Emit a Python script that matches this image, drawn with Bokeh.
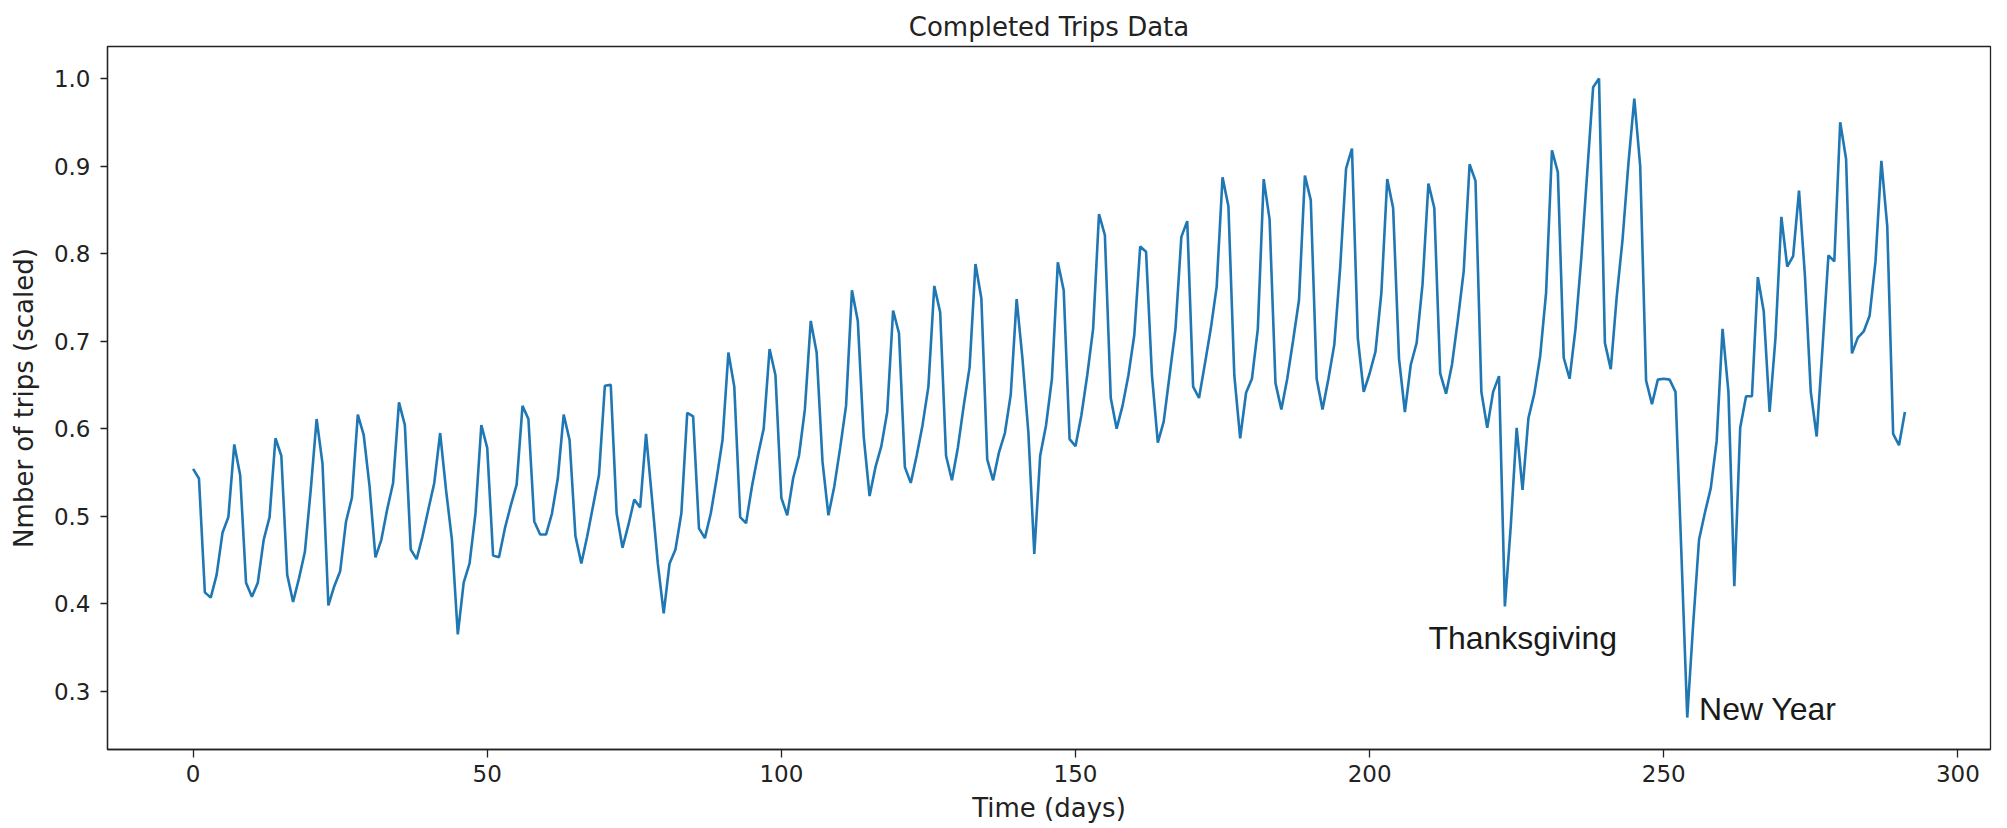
from bokeh.plotting import figure
from bokeh.models import Range1d, FixedTicker, PrintfTickFormatter, ColumnDataSource
from bokeh.core.properties import value
from bokeh.embed import file_html
from bokeh.resources import INLINE

# Scaled number of completed trips, one value per day (days 0..291)
trips_scaled = [
    0.554, 0.543, 0.413, 0.407, 0.433, 0.481, 0.499, 0.582, 0.547, 0.424,
    0.408, 0.424, 0.473, 0.499, 0.589, 0.569, 0.433, 0.402, 0.429, 0.459,
    0.530, 0.611, 0.560, 0.398, 0.420, 0.437, 0.494, 0.521, 0.616, 0.593,
    0.534, 0.453, 0.473, 0.508, 0.538, 0.630, 0.604, 0.462, 0.451, 0.477,
    0.508, 0.538, 0.595, 0.530, 0.473, 0.365, 0.424, 0.446, 0.503, 0.604,
    0.578, 0.455, 0.453, 0.486, 0.512, 0.536, 0.626, 0.611, 0.494, 0.479,
    0.479, 0.503, 0.543, 0.616, 0.587, 0.477, 0.446, 0.477, 0.512, 0.547,
    0.649, 0.650, 0.503, 0.464, 0.490, 0.519, 0.510, 0.594, 0.521, 0.446,
    0.389, 0.446, 0.462, 0.503, 0.618, 0.614, 0.486, 0.475, 0.503, 0.543,
    0.587, 0.687, 0.648, 0.499, 0.492, 0.534, 0.569, 0.600, 0.691, 0.661,
    0.521, 0.501, 0.543, 0.569, 0.622, 0.723, 0.687, 0.562, 0.501, 0.534,
    0.578, 0.626, 0.758, 0.723, 0.591, 0.523, 0.556, 0.580, 0.619, 0.735,
    0.709, 0.556, 0.538, 0.569, 0.604, 0.648, 0.763, 0.733, 0.569, 0.541,
    0.578, 0.626, 0.670, 0.788, 0.749, 0.565, 0.541, 0.573, 0.595, 0.639,
    0.748, 0.679, 0.595, 0.457, 0.569, 0.604, 0.657, 0.790, 0.758, 0.588,
    0.580, 0.615, 0.661, 0.714, 0.845, 0.821, 0.635, 0.600, 0.626, 0.661,
    0.707, 0.808, 0.802, 0.661, 0.584, 0.608, 0.661, 0.714, 0.819, 0.837,
    0.648, 0.635, 0.674, 0.714, 0.762, 0.887, 0.854, 0.661, 0.589, 0.641,
    0.657, 0.714, 0.885, 0.839, 0.652, 0.622, 0.657, 0.701, 0.747, 0.889,
    0.861, 0.657, 0.622, 0.657, 0.696, 0.784, 0.897, 0.920, 0.703, 0.642,
    0.663, 0.688, 0.755, 0.885, 0.852, 0.680, 0.619, 0.673, 0.698, 0.765,
    0.880, 0.852, 0.663, 0.640, 0.673, 0.724, 0.780, 0.902, 0.883, 0.642,
    0.601, 0.642, 0.660, 0.397, 0.489, 0.601, 0.530, 0.612, 0.640, 0.683,
    0.755, 0.918, 0.893, 0.681, 0.657, 0.714, 0.796, 0.893, 0.990, 1.000,
    0.698, 0.668, 0.750, 0.816, 0.903, 0.977, 0.900, 0.655, 0.628, 0.656,
    0.657, 0.656, 0.642, 0.458, 0.270, 0.376, 0.473, 0.504, 0.532, 0.586,
    0.714, 0.642, 0.420, 0.601, 0.637, 0.637, 0.773, 0.734, 0.619, 0.704,
    0.842, 0.785, 0.797, 0.872, 0.775, 0.642, 0.591, 0.693, 0.798, 0.791,
    0.950, 0.908, 0.686, 0.704, 0.711, 0.729, 0.791, 0.906, 0.831, 0.594,
    0.581, 0.619,
]
days = list(range(len(trips_scaled)))

x_ticks = [0, 50, 100, 150, 200, 250, 300]
y_ticks = [0.3, 0.4, 0.5, 0.6, 0.7, 0.8, 0.9, 1.0]

event_labels = ["Thanksgiving", "New Year"]
event_x = [210, 256]
event_y = [0.34, 0.259]

# matplotlib-like 5% margins
x_pad = (max(days) - min(days)) * 0.05
y_pad = (max(trips_scaled) - min(trips_scaled)) * 0.05

p = figure(
    width=2007, height=828,
    output_backend="svg", toolbar_location=None,
    x_range=Range1d(min(days) - x_pad, max(days) + x_pad),
    y_range=Range1d(min(trips_scaled) - y_pad, max(trips_scaled) + y_pad),
    min_border_left=107, min_border_right=17, min_border_top=46, min_border_bottom=79,
    title="Completed Trips Data",
)
p.background_fill_color = "white"
p.border_fill_color = "white"
p.xgrid.visible = False
p.ygrid.visible = False
p.outline_line_color = "#222222"
p.outline_line_width = 1.3

p.title.align = "center"
p.title.text_font = "DejaVu Sans"
p.title.text_font_size = "26px"
p.title.text_font_style = "normal"
p.title.text_color = "#222222"
p.title.standoff = 10

p.line(days, trips_scaled, line_color="#1f77b4", line_width=2.6)

src = ColumnDataSource(dict(x=event_x, y=event_y, label=event_labels))
p.text(x="x", y="y", text="label", source=src,
       text_font=value("Liberation Sans"), text_font_size="32px",
       text_baseline="bottom", text_align="left", text_color="#1a1a1a")

p.xaxis.ticker = FixedTicker(ticks=x_ticks)
p.yaxis.ticker = FixedTicker(ticks=y_ticks)
p.xaxis.formatter = PrintfTickFormatter(format="%d")
p.yaxis.formatter = PrintfTickFormatter(format="%.1f")

p.xaxis.axis_label = "Time (days)"
p.yaxis.axis_label = "Nmber of trips (scaled)"

for ax in (p.xaxis[0], p.yaxis[0]):
    ax.axis_line_color = "#222222"
    ax.axis_line_width = 1.3
    ax.major_tick_line_color = "#222222"
    ax.major_tick_line_width = 1.3
    ax.major_tick_in = 0
    ax.minor_tick_in = 0
    ax.minor_tick_out = 0
    ax.major_label_text_font = "DejaVu Sans"
    ax.major_label_text_font_size = "23px"
    ax.major_label_text_color = "#222222"
    ax.axis_label_text_font = "DejaVu Sans"
    ax.axis_label_text_font_size = "26px"
    ax.axis_label_text_font_style = "normal"
    ax.axis_label_text_color = "#222222"

p.xaxis.major_tick_out = 8
p.xaxis.major_label_standoff = 7
p.xaxis.axis_label_standoff = 8

p.yaxis.major_tick_out = 7
p.yaxis.major_label_standoff = 10
p.yaxis.axis_label_standoff = 12

open("out.html", "w").write(file_html(p, INLINE))
